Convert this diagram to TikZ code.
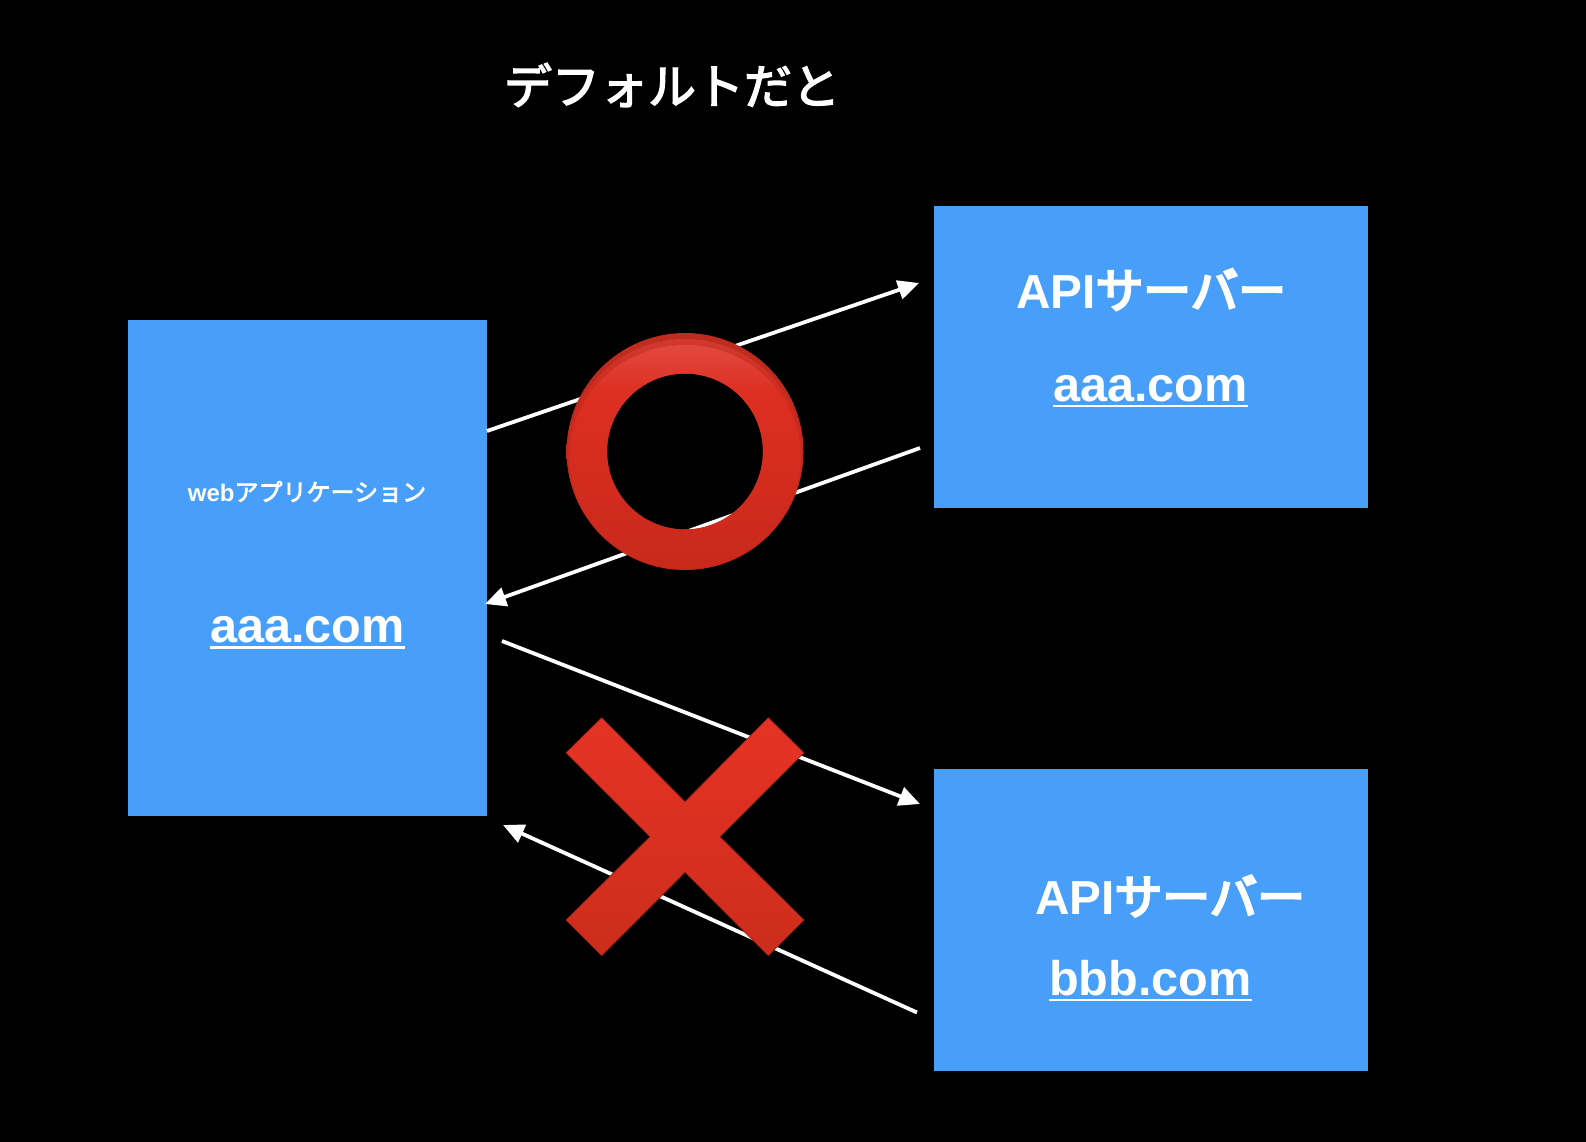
\documentclass[tikz,border=0pt]{standalone}
\usepackage{fontspec}
\setmainfont{Liberation Sans}
\newfontfamily\cjk[FakeBold=3]{Noto Sans CJK JP}
\newfontfamily\cjkheavy[FakeBold=5]{Noto Sans CJK JP}
\usetikzlibrary{arrows.meta}
\definecolor{boxblue}{HTML}{489FF9}
\definecolor{ringHi}{HTML}{E2483E}
\definecolor{ringE}{HTML}{DD2F22}
\definecolor{ringF}{HTML}{C8291B}
\definecolor{rimTop}{HTML}{C02B1F}
\definecolor{rimBot}{HTML}{B82618}
\definecolor{crossTop}{HTML}{E53325}
\definecolor{crossBot}{HTML}{CC2D1C}
\pgfdeclareverticalshading{ringshade}{100bp}{color(0bp)=(ringF); color(25bp)=(ringF); color(64.4bp)=(ringE); color(75bp)=(ringHi); color(100bp)=(ringHi)}
\pgfdeclareverticalshading{rimshade}{100bp}{color(0bp)=(rimBot); color(25bp)=(rimBot); color(75bp)=(rimTop); color(100bp)=(rimTop)}
\newsavebox{\ulbox}
\newcommand{\ulink}[1]{\sbox{\ulbox}{#1}\rlap{\raisebox{-6.4pt}{\rule{\wd\ulbox}{2.6pt}}}\usebox{\ulbox}}
\newcommand{\kana}[1]{{\mdseries\cjk #1}}
\newcommand{\kanaheavy}[1]{{\mdseries\cjkheavy #1}}
\tikzset{
  bluebox/.style={fill=boxblue,draw=none,inner sep=0pt,outer sep=0pt},
  boxlabel/.style={text=white,inner sep=0pt,outer sep=0pt,anchor=base,font=\fontsize{47.7}{50}\selectfont\bfseries},
  domainlabel/.style={boxlabel,font=\fontsize{48.6}{50}\selectfont\bfseries},
  flow/.style={draw=white,line width=3.8pt,-{Triangle[length=21pt,width=19pt]}},
  crossmark/.style={top color=crossTop,bottom color=crossBot,draw=crossBot!70!black,line width=.6pt,line join=miter}
}
\begin{document}
\begin{tikzpicture}[x=1pt,y=-1pt]
\useasboundingbox[fill=black] (0,0) rectangle (1586,1142);
% boxes
\node[bluebox,minimum width=359pt,minimum height=496pt] (web) at (307.5,568) {};
\node[bluebox,minimum width=434pt,minimum height=302pt] (api1) at (1151,357) {};
\node[bluebox,minimum width=434pt,minimum height=302pt] (api2) at (1151,920) {};
% labels
\node[boxlabel,font=\fontsize{48}{50}\selectfont] (title) at (672,104) {\kana{デフォルトだと}};
\node[boxlabel,font=\fontsize{24}{26}\selectfont\bfseries] (webname) at (307,501) {web\kana{アプリケーション}};
\node[domainlabel] (webdom) at (307.5,642.5) {\ulink{aaa.com}};
\node[boxlabel] (api1name) at (1151,308) {API\kanaheavy{サーバー}};
\node[domainlabel] (api1dom) at (1150.5,401) {\ulink{aaa.com}};
\node[boxlabel] (api2name) at (1170,914.5) {API\kanaheavy{サーバー}};
\node[domainlabel] (api2dom) at (1150.5,995) {\ulink{bbb.com}};
% connector ends
\coordinate (a1s) at (487,431);
\coordinate (a1e) at (919,283);
\coordinate (a2s) at (920,448);
\coordinate (a2e) at (485,604);
\coordinate (a3s) at (502,641);
\coordinate (a3e) at (920,804);
\coordinate (a4s) at (917,1012.5);
\coordinate (a4e) at (503,825);
\draw[flow] (a1s) -- (a1e);
\draw[flow] (a2s) -- (a2e);
\draw[flow] (a3s) -- (a3e);
\draw[flow] (a4s) -- (a4e);
% ring
\coordinate (ringc) at (685,451.5);
\coordinate (ringm) at (685,457);
\coordinate (ringn) at (685,454.5);
\path[shading=rimshade,even odd rule] (ringc) circle[radius=118.5pt] (ringc) circle[radius=78pt];
\path[shading=ringshade,even odd rule,opacity=.5] (ringn) circle[x radius=117.5pt,y radius=115.5pt] (ringc) circle[radius=78pt];
\path[shading=ringshade,even odd rule] (ringm) circle[x radius=115.5pt,y radius=112pt] (ringc) circle[radius=78pt];
% cross
\path[crossmark] (601.7,717.7) -- (685,801.7) -- (768.3,717.7) -- (804,752.7) -- (720,836.7) -- (804,920) -- (768.3,955.7) -- (685,872.3) -- (601.7,955.7) -- (566,920) -- (650,836.7) -- (566,752.7) -- cycle;
\end{tikzpicture}
\end{document}
